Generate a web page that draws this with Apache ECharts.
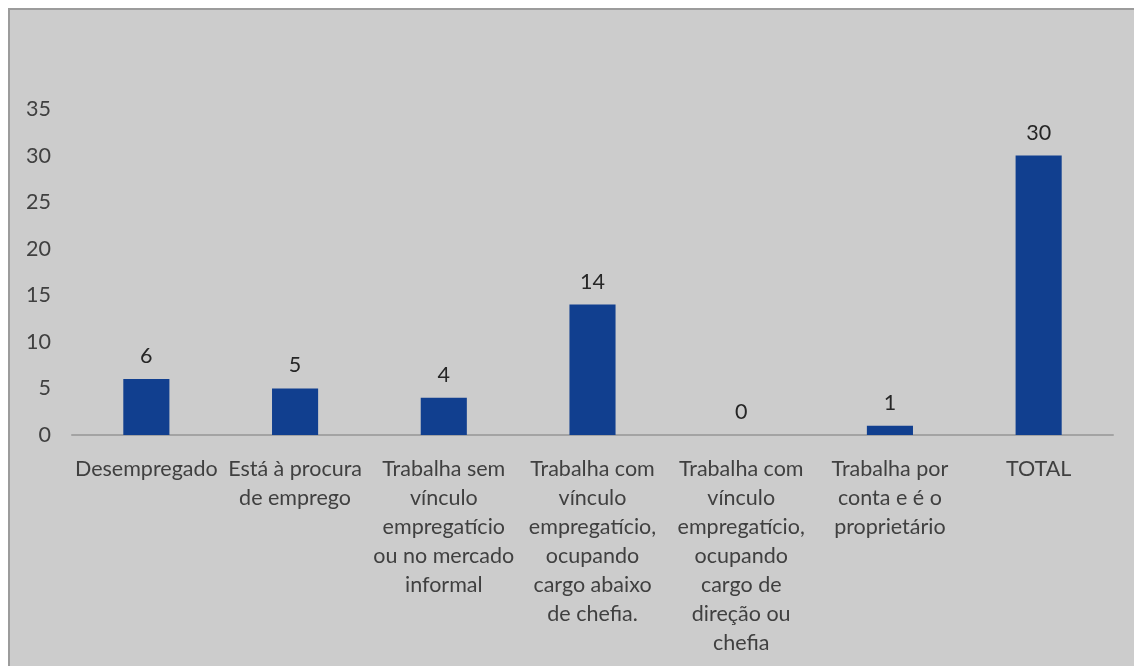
<!DOCTYPE html>
<html>
<head>
<meta charset="utf-8">
<script src="https://cdn.jsdelivr.net/npm/echarts@6/dist/echarts.min.js"></script>
<style>
  html, body { margin: 0; padding: 0; background: #ffffff; }
  #frame { position: absolute; left: 8px; top: 8px; width: 1126px; height: 658px;
           background: #cccccc; border-left: 2px solid #9c9c9c; border-top: 2px solid #9c9c9c; box-sizing: border-box; }
  #chart { position: absolute; left: 0; top: 0; width: 1134px; height: 666px; }
</style>
</head>
<body>
<div id="frame"></div>
<div id="chart"></div>
<script>
// Situação profissional dos respondentes
const categories = [
  'Desempregado',
  'Está à procura\nde emprego',
  'Trabalha sem\nvínculo\nempregatício\nou no mercado\ninformal',
  'Trabalha com\nvínculo\nempregatício,\nocupando\ncargo abaixo\nde chefia.',
  'Trabalha com\nvínculo\nempregatício,\nocupando\ncargo de\ndireção ou\nchefia',
  'Trabalha por\nconta e é o\nproprietário',
  'TOTAL'
];
const counts = [6, 5, 4, 14, 0, 1, 30];
const yTicks = { min: 0, max: 35, interval: 5 };

const fontFamily = 'Lato, "Open Sans", sans-serif';
const chart = echarts.init(document.getElementById('chart'), null, { renderer: 'canvas' });
chart.setOption({
  backgroundColor: 'transparent',
  animation: false,
  grid: { left: 72, right: 21, top: 109, bottom: 231, containLabel: false },
  xAxis: {
    type: 'category',
    data: categories,
    axisLine: { show: true, lineStyle: { color: '#a3a3a3', width: 2 } },
    axisTick: { show: false },
    axisLabel: {
      interval: 0,
      color: '#404040',
      fontFamily: fontFamily,
      fontSize: 21.5,
      lineHeight: 29,
      margin: 20,
      align: 'center'
    }
  },
  yAxis: {
    type: 'value',
    min: yTicks.min,
    max: yTicks.max,
    interval: yTicks.interval,
    axisLine: { show: false },
    axisTick: { show: false },
    splitLine: { show: false },
    axisLabel: {
      color: '#404040',
      fontFamily: fontFamily,
      fontSize: 21.5,
      margin: 21
    }
  },
  series: [{
    type: 'bar',
    data: counts,
    barWidth: '31%',
    itemStyle: { color: '#113f8f' },
    label: {
      show: true,
      position: 'top',
      distance: 12,
      color: '#262626',
      fontFamily: fontFamily,
      fontSize: 21.5
    }
  }]
});
</script>
</body>
</html>
